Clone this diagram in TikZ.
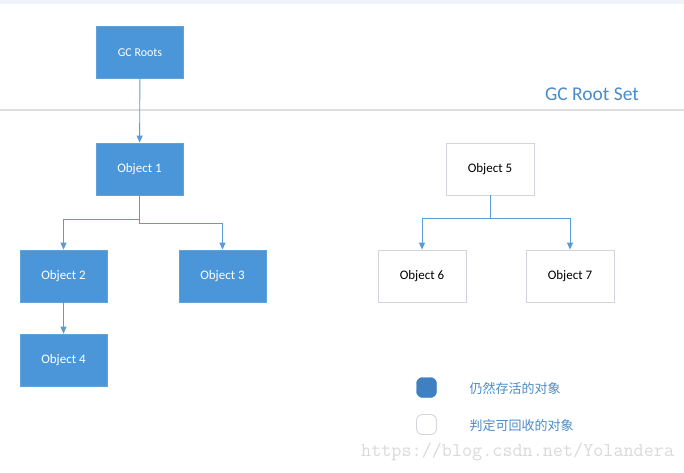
\documentclass[tikz,border=0pt]{standalone}
\usepackage{fontspec}
\setmainfont{Carlito}
\newfontfamily\cjkfont{Noto Sans CJK SC}
\usetikzlibrary{arrows.meta}
\definecolor{boxblue}{HTML}{4A96D8}
\definecolor{boxedge}{HTML}{5FA3DC}
\definecolor{linkblue}{HTML}{5B9BD5}
\definecolor{legblue}{HTML}{3F80C2}
\definecolor{textblue}{HTML}{4A8CC8}
\definecolor{grayedge}{HTML}{D2D6DC}
\definecolor{sepgray}{HTML}{DCDEE0}
\definecolor{topstrip}{HTML}{EEF3F9}
\definecolor{wmgray}{HTML}{DADADA}
\tikzset{
  livebox/.style={draw=boxedge, fill=boxblue, line width=0.8pt, minimum width=87pt, minimum height=52pt, inner sep=0pt, text=white, font=\fontsize{13}{15}\selectfont},
  deadbox/.style={draw=grayedge, fill=white, line width=0.9pt, minimum width=88pt, minimum height=52pt, inner sep=0pt, text=black, font=\fontsize{13}{15}\selectfont},
  link/.style={draw=linkblue, line width=0.9pt, -{Triangle[length=7pt,width=6pt]}},
  legtext/.style={anchor=west, text=textblue, font=\cjkfont\fontsize{13}{15}\selectfont}
}
\begin{document}
\begin{tikzpicture}[x=1pt,y=-1pt]
\useasboundingbox (0,0) rectangle (684,472);
\fill[white] (0,0) rectangle (684,472);
\fill[topstrip] (0,0) rectangle (684,4);
\draw[sepgray, line width=1.8pt] (0,110) -- (684,110);
\node[anchor=base, text=textblue, font=\fontsize{19.5}{22}\selectfont] (rootset) at (592,100) {GC Root Set};

\node[livebox, font=\fontsize{12}{14}\selectfont] (roots) at (140,52.5) {GC Roots};
\node[livebox] (o1) at (139.5,169) {Object 1};
\node[livebox] (o2) at (63.5,276) {Object 2};
\node[livebox] (o3) at (222.5,276) {Object 3};
\node[livebox] (o4) at (63.5,360) {Object 4};
\node[deadbox] (o5) at (490,169) {Object 5};
\node[deadbox] (o6) at (422,276) {Object 6};
\node[deadbox] (o7) at (570,276) {Object 7};

\coordinate (j1l) at (139.5,219);
\coordinate (j1r) at (139.5,223);
\coordinate (j5) at (490,218);

\draw[link] (roots) -- (o1);
\draw[link] (o1.south) -- (j1l) -| (o2.north);
\draw[link] (o1.south) -- (j1r) -| (o3.north);
\draw[link] (o2) -- (o4);
\draw[link] (o5.south) -- (j5) -| (o6.north);
\draw[link] (o5.south) -- (j5) -| (o7.north);

\node[draw=legblue, fill=legblue, rounded corners=6pt, minimum width=20pt, minimum height=20pt, inner sep=0pt] (leglive) at (426.5,387.5) {};
\node[draw=grayedge, fill=white, line width=0.9pt, rounded corners=6pt, minimum width=20pt, minimum height=20pt, inner sep=0pt] (legdead) at (426.5,424.5) {};
\node[legtext] (t1) at (466,389) {仍然存活的对象};
\node[legtext] (t2) at (466,426) {判定可回收的对象};

\node[anchor=west, text=wmgray, font=\ttfamily\fontsize{19.6}{21}\selectfont, inner sep=0pt] (wm) at (361,452) {https://blog.csdn.net/Yolandera};
\end{tikzpicture}
\end{document}
